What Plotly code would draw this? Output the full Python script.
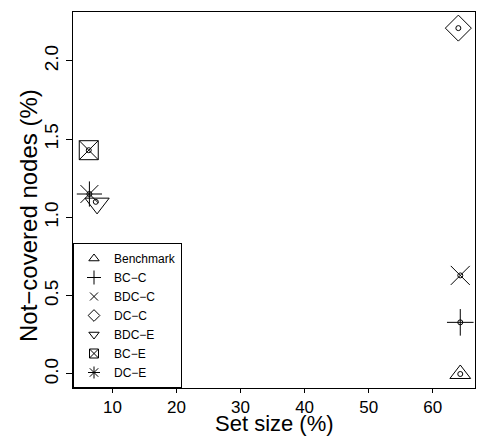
import plotly.graph_objects as go

# ---- data ----
series = ["Benchmark", "BC\u2212C", "BDC\u2212C", "DC\u2212C", "BDC\u2212E", "BC\u2212E", "DC\u2212E"]
set_size = [64.3, 64.3, 64.3, 64.0, 7.6, 6.3, 6.4]
not_covered = [0.0, 0.33, 0.63, 2.21, 1.09, 1.43, 1.15]
set_size_center = [64.3, 64.3, 64.3, 64.0, 7.4, 6.3, 6.4]
not_covered_center = [0.0, 0.33, 0.63, 2.21, 1.10, 1.43, 1.15]
x_ticks = [10, 20, 30, 40, 50, 60]
y_ticks = [0.0, 0.5, 1.0, 1.5, 2.0]
y_tick_labels = ["0.0", "0.5", "1.0", "1.5", "2.0"]

# ---- styles ----
symbols = ["triangle-up-open", "cross-thin-open", "x-thin-open", "diamond-open",
           "triangle-down-open", "square-x-open", "asterisk-open"]
big_sizes = [18, 19, 19, 20, 21, 19, 21]
legend_sizes = [9, 10, 8, 9, 9, 9, 10]

FONT = "Liberation Sans, Arial, Helvetica, sans-serif"
fig = go.Figure()

for i, name in enumerate(series):
    fig.add_trace(go.Scatter(
        x=[set_size[i]], y=[not_covered[i]], mode="markers", showlegend=False,
        marker=dict(symbol=symbols[i], size=big_sizes[i], color="black",
                    line=dict(color="black", width=1)),
        hoverinfo="skip"))
    fig.add_trace(go.Scatter(
        x=[set_size_center[i]], y=[not_covered_center[i]], mode="markers", showlegend=False,
        marker=dict(symbol="circle-open", size=5, color="black",
                    line=dict(color="black", width=1)),
        hoverinfo="skip"))
    # legend entry
    fig.add_trace(go.Scatter(
        x=[None], y=[None], mode="markers", name=name,
        marker=dict(symbol=symbols[i], size=legend_sizes[i], color="black",
                    line=dict(color="black", width=1))))

fig.update_layout(
    width=482, height=437,
    margin=dict(l=73, r=7, t=12, b=49),
    paper_bgcolor="white", plot_bgcolor="white",
    font=dict(family=FONT, color="black"),
    showlegend=True,
    legend=dict(x=0, y=0, xanchor="left", yanchor="bottom",
                bordercolor="black", borderwidth=1, bgcolor="white",
                font=dict(size=12, family=FONT), itemsizing="trace",
                tracegroupgap=0),
    xaxis=dict(range=[3.84, 66.6], tickmode="array", tickvals=x_ticks,
               showgrid=False, zeroline=False, showline=True, mirror=True,
               linecolor="black", linewidth=1, ticks="outside", ticklen=4,
               tickcolor="black", tickfont=dict(size=17, family=FONT)),
    yaxis=dict(range=[-0.0895, 2.313], tickmode="array", tickvals=y_ticks,
               ticktext=y_tick_labels, tickangle=-90,
               showgrid=False, zeroline=False, showline=True, mirror=True,
               linecolor="black", linewidth=1, ticks="outside", ticklen=6,
               tickcolor="black", tickfont=dict(size=19, family=FONT)),
    annotations=[
        dict(text="Set size (%)", xref="paper", yref="paper", x=0.5, y=-49 / 376,
             xanchor="center", yanchor="bottom", showarrow=False,
             font=dict(size=22, family=FONT), borderpad=0),
        dict(text="Not\u2212covered nodes (%)", xref="paper", yref="paper",
             x=-45 / 402, y=(388 - 216) / 376, xanchor="center", yanchor="middle",
             textangle=-90, showarrow=False, font=dict(size=24, family=FONT)),
    ],
)

fig.write_html("out.html", config={"displayModeBar": False},
               post_script="document.body.style.margin='0px';document.body.style.overflow='hidden';")
